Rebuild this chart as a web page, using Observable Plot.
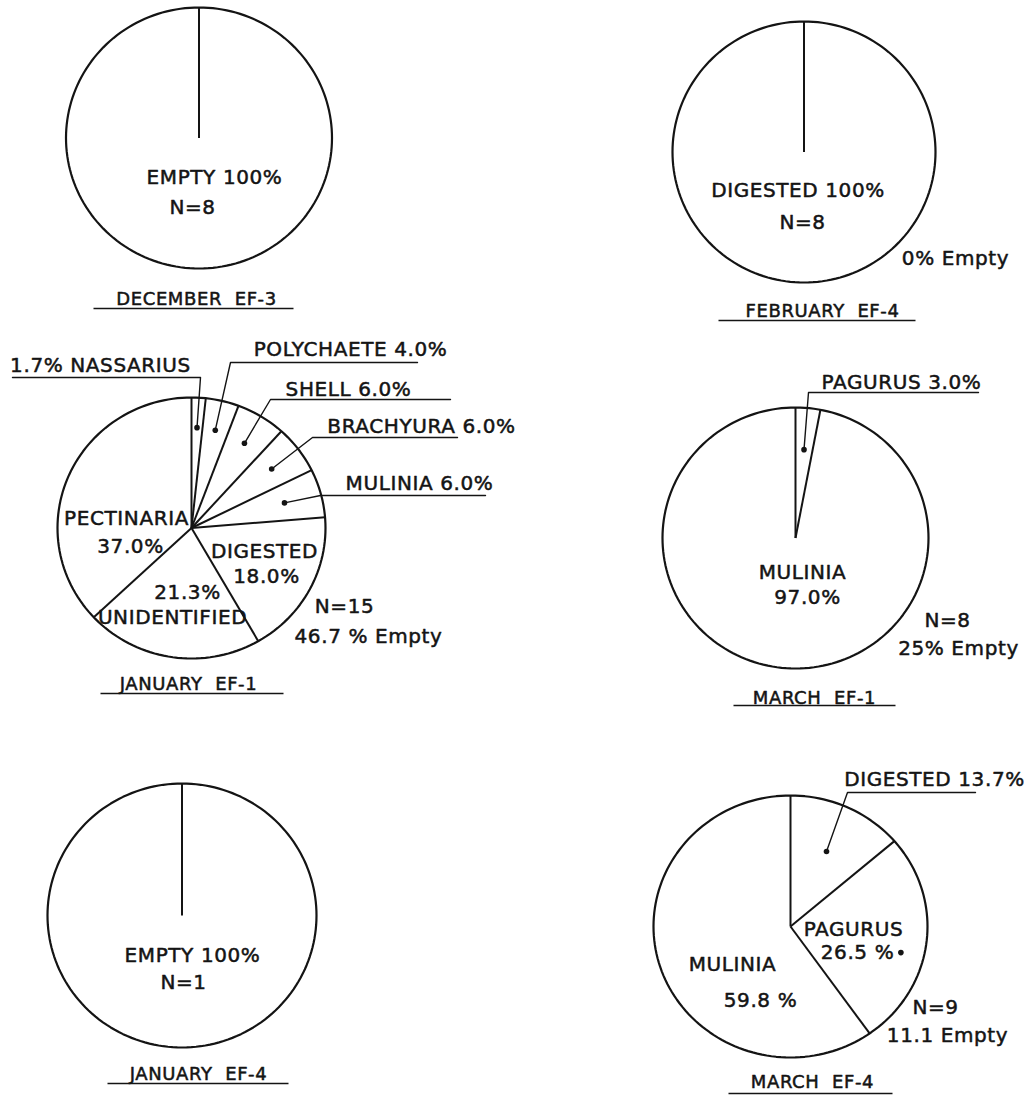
<!DOCTYPE html>
<html>
<head>
<meta charset="utf-8">
<script src="https://cdn.jsdelivr.net/npm/d3@7"></script>
<script src="https://cdn.jsdelivr.net/npm/@observablehq/plot@0.6"></script>
<style>
  html, body { margin: 0; padding: 0; background: #fff; }
  #chart svg text { letter-spacing: 0.6px; }
  #chart g[aria-label="captions"] text { letter-spacing: 2px; }
</style>
</head>
<body>
<div id="chart"></div>
<script>
// ---------------- DATA ----------------
const panelTitles = ["DECEMBER  EF-3", "FEBRUARY  EF-4", "JANUARY  EF-1", "MARCH  EF-1", "JANUARY  EF-4", "MARCH  EF-4"];
const panelN = [8, 8, 15, 8, 1, 9];
const panelEmptyLabels = ["", "0% Empty", "46.7 % Empty", "25% Empty", "", "11.1 Empty"];

const decCategories = ["EMPTY"];
const decValues = [100];
const febCategories = ["DIGESTED"];
const febValues = [100];
const jan1Categories = ["NASSARIUS", "POLYCHAETE", "SHELL", "BRACHYURA", "MULINIA", "DIGESTED", "UNIDENTIFIED", "PECTINARIA"];
const jan1Values = [1.7, 4.0, 6.0, 6.0, 6.0, 18.0, 21.3, 37.0];
const mar1Categories = ["PAGURUS", "MULINIA"];
const mar1Values = [3.0, 97.0];
const jan4Categories = ["EMPTY"];
const jan4Values = [100];
const mar4Categories = ["DIGESTED", "PAGURUS", "MULINIA"];
const mar4Values = [13.7, 26.5, 59.8];

const pieCategories = [decCategories, febCategories, jan1Categories, mar1Categories, jan4Categories, mar4Categories];
const pieValues = [decValues, febValues, jan1Values, mar1Values, jan4Values, mar4Values];

// ---------------- LAYOUT (positions / label placement) ----------------
const layout = [
  { cx: 198.5, cy: 137.5, rx: 133, ry: 130.5, caption: [196, 299], underline: [93, 293, 308], n: [192, 207.5], empty: null,
    labels: [ { parts: [["{c} {v}%", 214, 177.5]] } ] },
  { cx: 803.5, cy: 151.5, rx: 131.5, ry: 130.5, caption: [822, 311], underline: [718, 915, 320], n: [802, 222], empty: [955, 258],
    labels: [ { parts: [["{c} {v}%", 797.5, 190]] } ] },
  { cx: 191, cy: 527.5, rx: 134, ry: 130.5, caption: [188, 684], underline: [100, 283, 693], n: [344, 606], empty: [368, 636],
    labels: [
      { parts: [["{v}% {c}", 100, 365]], leader: { corner: [200, 377], end: 12, frac: 0.77 } },
      { parts: [["{c} {v}%", 350, 349]], leader: { corner: [230, 362], end: 417, frac: 0.77 } },
      { parts: [["{c} {v}%", 348, 389]], leader: { corner: [270, 399], end: 450, frac: 0.76 } },
      { parts: [["{c} {v}%", 421, 426]], leader: { corner: [312, 437], end: 457, frac: 0.75 } },
      { parts: [["{c} {v}%", 419, 483]], leader: { corner: [320, 495], end: 485, frac: 0.72 } },
      { parts: [["{c}", 264, 551], ["{v}%", 266, 576]] },
      { parts: [["{v}%", 187, 592.5], ["{c}", 172, 617.5]] },
      { parts: [["{c}", 126, 518], ["{v}%", 130, 546]] }
    ] },
  { cx: 795, cy: 537.5, rx: 133, ry: 130.5, caption: [814, 697.5], underline: [733, 895, 705], n: [947, 620], empty: [958, 648.5],
    labels: [
      { parts: [["{c} {v}%", 901, 382]], leader: { corner: [808, 392], end: 978, frac: 0.68 } },
      { parts: [["{c}", 802, 572.5], ["{v}%", 807, 597.5]] }
    ] },
  { cx: 181.5, cy: 915, rx: 134.5, ry: 132, caption: [198, 1074], underline: [107, 288, 1083], n: [183, 982.5], empty: null,
    labels: [ { parts: [["{c} {v}%", 192, 955.5]] } ] },
  { cx: 790, cy: 926, rx: 137, ry: 131, caption: [812, 1081.5], underline: [728, 892, 1093], n: [935, 1007.5], empty: [947, 1035],
    labels: [
      { parts: [["{c} {v}%", 934, 779.5]], leader: { corner: [847, 792], end: 975, frac: 0.63 } },
      { parts: [["{c}", 853, 929.5], ["{v} %", 857, 952.5]], dot: 0.83 },
      { parts: [["{c}", 732, 964.5], ["{v} %", 760, 1000.5]] }
    ] }
];

// ---------------- BUILD MARK DATA ----------------
const fmt = v => v === 100 ? "100" : v.toFixed(1);
const fill = (t, c, v) => t.replace("{c}", c).replace("{v}", fmt(v));
const pt = (L, a, f) => ({ x: L.cx + f * L.rx * Math.sin(a), y: L.cy - f * L.ry * Math.cos(a) });

const circlePts = [], bounds = [], leaders = [], dots = [], texts = [], captions = [], underlines = [], notes = [];

layout.forEach((L, i) => {
  for (let k = 0; k < 180; k++) {
    const p = pt(L, 2 * Math.PI * k / 180, 1);
    circlePts.push({ pie: i, x: p.x, y: p.y });
  }
  const slices = pieCategories[i].map((c, j) => ({ c, v: pieValues[i][j] }));
  const arcs = d3.pie().sort(null).value(d => d.v)(slices);
  arcs.forEach((a, j) => {
    const e = pt(L, a.startAngle, 1);
    bounds.push({ x1: L.cx, y1: L.cy, x2: e.x, y2: e.y });
    const lab = L.labels[j];
    if (!lab) return;
    lab.parts.forEach(([t, x, y]) => texts.push({ t: fill(t, a.data.c, a.data.v), x, y }));
    const mid = (a.startAngle + a.endAngle) / 2;
    if (lab.leader) {
      const d = pt(L, mid, lab.leader.frac);
      dots.push(d);
      const id = i + "-" + j;
      leaders.push({ id, x: d.x, y: d.y });
      leaders.push({ id, x: lab.leader.corner[0], y: lab.leader.corner[1] });
      leaders.push({ id, x: lab.leader.end, y: lab.leader.corner[1] });
    }
    if (lab.dot) dots.push(pt(L, mid + 0.12, lab.dot));
  });
  captions.push({ t: panelTitles[i], x: L.caption[0], y: L.caption[1] });
  underlines.push({ x1: L.underline[0], x2: L.underline[1], y: L.underline[2] });
  notes.push({ t: "N=" + panelN[i], x: L.n[0], y: L.n[1] });
  if (L.empty) notes.push({ t: panelEmptyLabels[i], x: L.empty[0], y: L.empty[1] });
});

// ---------------- PLOT ----------------
const ink = "#141414";
const chart = Plot.plot({
  width: 1024,
  height: 1099,
  margin: 0,
  x: { type: "linear", domain: [0, 1024], range: [0, 1024], axis: null },
  y: { type: "linear", domain: [0, 1099], range: [0, 1099], axis: null },
  style: { fontFamily: "'DejaVu Sans', sans-serif", background: "#fff", color: ink },
  marks: [
    Plot.line(circlePts, { x: "x", y: "y", z: "pie", curve: "linear-closed", stroke: ink, strokeWidth: 2.2 }),
    Plot.link(bounds, { x1: "x1", y1: "y1", x2: "x2", y2: "y2", stroke: ink, strokeWidth: 2 }),
    Plot.line(leaders, { x: "x", y: "y", z: "id", stroke: ink, strokeWidth: 1.4, curve: "linear" }),
    Plot.dot(dots, { x: "x", y: "y", r: 2.8, fill: ink, stroke: "none" }),
    Plot.text(texts, { x: "x", y: "y", text: "t", fontSize: 20, fill: ink, stroke: ink, strokeWidth: 0.5, ariaLabel: "labels" }),
    Plot.text(notes, { x: "x", y: "y", text: "t", fontSize: 20, fill: ink, stroke: ink, strokeWidth: 0.5, ariaLabel: "notes" }),
    Plot.text(captions, { x: "x", y: "y", text: "t", fontSize: 18, fill: ink, stroke: ink, strokeWidth: 0.5, ariaLabel: "captions" }),
    Plot.link(underlines, { x1: "x1", x2: "x2", y1: "y", y2: "y", stroke: ink, strokeWidth: 1.5 })
  ]
});
document.getElementById("chart").appendChild(chart);
</script>
</body>
</html>
